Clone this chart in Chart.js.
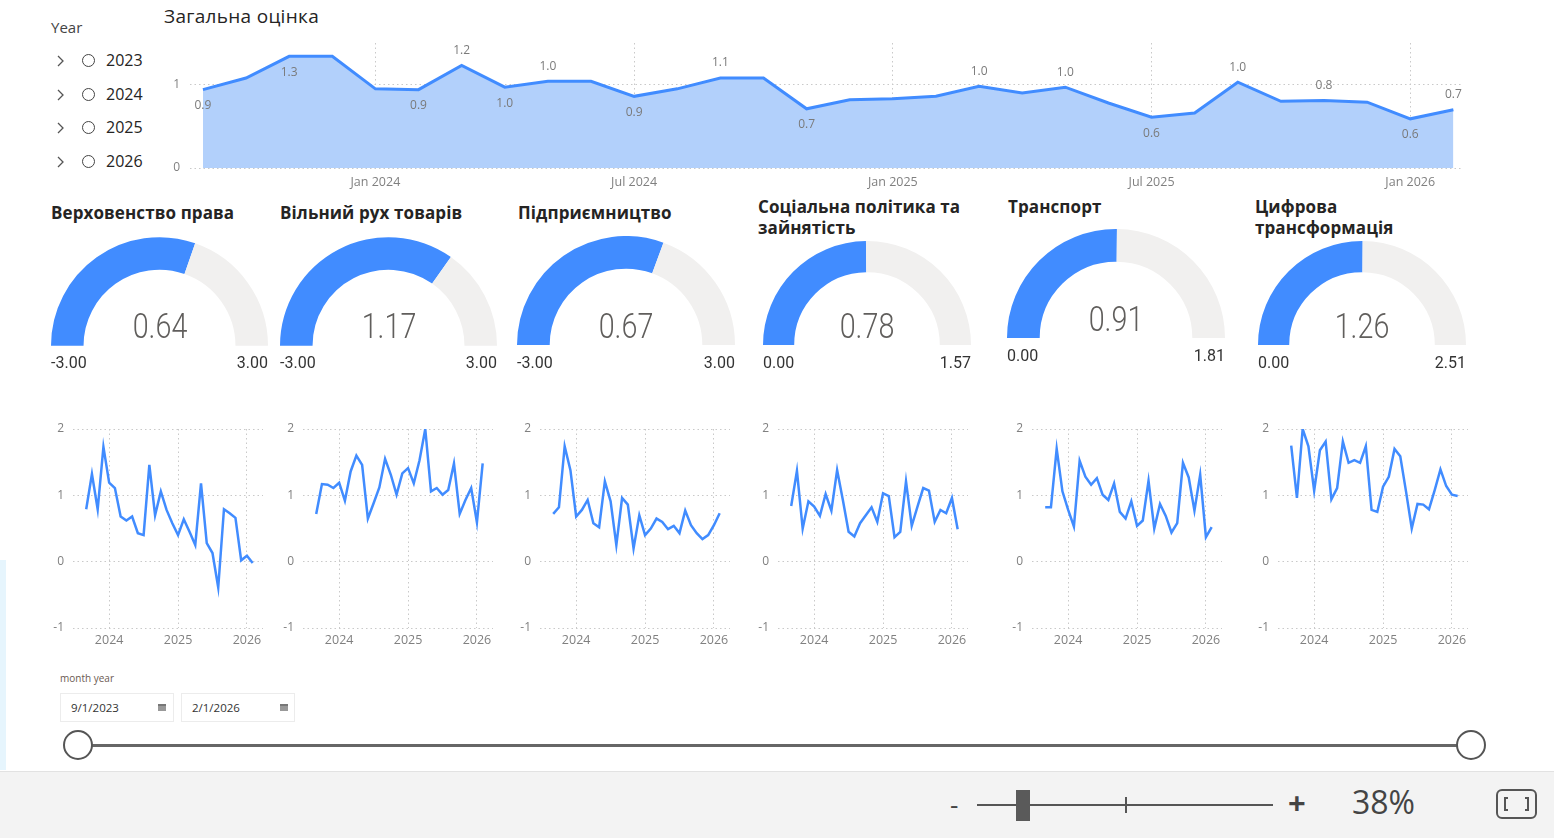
<!DOCTYPE html>
<html>
<head>
<meta charset="utf-8">
<script src="https://cdn.jsdelivr.net/npm/chart.js@4.4.0/dist/chart.umd.min.js"></script>
<style>
body { margin:0; width:1554px; height:838px; position:relative; overflow:hidden; background:#fff;
       font-family:"Open Sans","Noto Sans",sans-serif; color:#252423; }
.abs { position:absolute; white-space:nowrap; }
canvas { position:absolute; }
.ttl { font-weight:700; font-size:17px; line-height:21px; letter-spacing:0.1px; }
.gval { font-family:Roboto,sans-serif; font-weight:300; font-size:35px; color:#605e5c; transform:translate(-50%,-50%) scaleX(0.82); }
.glab { font-family:Roboto,sans-serif; font-weight:400; font-size:16px; color:#333; transform:translateY(-50%); }
.yr { font-size:16px; color:#252423; }
.radio { width:11px; height:11px; border:1.3px solid #444; border-radius:50%; }
.datebox { border:1px solid #ececec; height:27px; width:112px; font-size:11.5px; color:#333; line-height:27px; }
.cal { width:8px; height:7px; background:#999; top:10px; border-top:2px solid #777; box-sizing:border-box; }
</style>
</head>
<body>

<!-- year slicer -->
<div class="abs" style="left:51px;top:17px;font-size:15px;color:#444">Year</div>
<div id="years"></div>

<div class="abs" style="left:164px;top:3px;font-size:19px;letter-spacing:0.3px;color:#252423">Загальна оцінка</div>
<canvas id="overall" width="1312" height="155" style="left:160px;top:35px"></canvas>

<div id="gauges"></div>
<div id="lines"></div>

<!-- date slicer -->
<div class="abs" style="left:60px;top:671px;font-size:10px;color:#6b5a52">month year</div>
<div class="abs datebox" style="left:60px;top:693px"><span style="margin-left:10px">9/1/2023</span><div class="abs cal" style="left:97px"></div></div>
<div class="abs datebox" style="left:181px;top:693px"><span style="margin-left:10px">2/1/2026</span><div class="abs cal" style="left:98px"></div></div>
<div class="abs" style="left:78px;top:744px;width:1393px;height:3px;background:#666"></div>
<div class="abs" style="left:63px;top:730px;width:26px;height:26px;border:2.5px solid #555;border-radius:50%;background:#fff"></div>
<div class="abs" style="left:1456px;top:730px;width:26px;height:26px;border:2.5px solid #555;border-radius:50%;background:#fff"></div>

<!-- left glow -->
<div class="abs" style="left:0;top:560px;width:6px;height:210px;background:#e6f5fd"></div>

<!-- bottom bar -->
<div class="abs" style="left:0;top:771px;width:1554px;height:67px;background:#f3f3f3;border-top:1px solid #e2e2e2"></div>
<div class="abs" style="left:950px;top:786px;font-size:26px;color:#444">-</div>
<div class="abs" style="left:977px;top:804px;width:296px;height:2px;background:#555"></div>
<div class="abs" style="left:1125px;top:797px;width:2px;height:16px;background:#555"></div>
<div class="abs" style="left:1016px;top:790px;width:14px;height:31px;background:#5a5a5a"></div>
<div class="abs" style="left:1288px;top:781px;font-size:31px;font-weight:700;color:#444">+</div>
<div class="abs" style="left:1352px;top:780px;font-size:32px;color:#444">38%</div>
<svg class="abs" style="left:1496px;top:789px" width="41" height="30">
  <rect x="1" y="1" width="39" height="28" rx="5" fill="none" stroke="#555" stroke-width="2"/>
  <polyline points="12,9 9,9 9,21 12,21" fill="none" stroke="#555" stroke-width="2"/>
  <polyline points="29,9 32,9 32,21 29,21" fill="none" stroke="#555" stroke-width="2"/>
</svg>

<script>
var months = ['Sep 2023','Oct 2023','Nov 2023','Dec 2023',
  'Jan 2024','Feb 2024','Mar 2024','Apr 2024','May 2024','Jun 2024','Jul 2024','Aug 2024','Sep 2024','Oct 2024','Nov 2024','Dec 2024',
  'Jan 2025','Feb 2025','Mar 2025','Apr 2025','May 2025','Jun 2025','Jul 2025','Aug 2025','Sep 2025','Oct 2025','Nov 2025','Dec 2025',
  'Jan 2026','Feb 2026'];
var years = ['2023', '2024', '2025', '2026'];

// Загальна оцінка
var overall = [0.94, 1.08, 1.34, 1.34, 0.95, 0.94, 1.23, 0.97, 1.04, 1.04, 0.86, 0.95, 1.08, 1.08, 0.71, 0.82,
  0.83, 0.86, 0.98, 0.90, 0.97, 0.78, 0.61, 0.66, 1.03, 0.80, 0.81, 0.79, 0.59, 0.70];
var overallLabelIdx = [0, 2, 5, 6, 7, 8, 10, 12, 14, 18, 20, 22, 24, 26, 28, 29];
var overallLabelPos = ['down','down','down','up','down','up','down','up','down','up','up','down','up','up','down','up'];
var overallTicks = ['Jan 2024', 'Jul 2024', 'Jan 2025', 'Jul 2025', 'Jan 2026'];
var yearTicks = ['2024', '2025', '2026'];

var areaNames = [['Верховенство права'], ['Вільний рух товарів'], ['Підприємництво'],
  ['Соціальна політика та', 'зайнятість'], ['Транспорт'], ['Цифрова', 'трансформація']];
var areaValues = [0.64, 1.17, 0.67, 0.78, 0.91, 1.26];
var areaMin = [-3, -3, -3, 0, 0, 0];
var areaMax = [3, 3, 3, 1.57, 1.81, 2.51];

var ruleOfLaw = [0.79, 1.32, 0.79, 1.73, 1.19, 1.11, 0.68, 0.62, 0.68, 0.43, 0.40, 1.46, 0.70, 1.06, 0.78, 0.58,
  0.40, 0.64, 0.45, 0.25, 1.18, 0.28, 0.13, -0.39, 0.79, 0.73, 0.66, 0.02, 0.09, -0.02];
var freeGoods = [0.72, 1.17, 1.16, 1.11, 1.19, 0.92, 1.36, 1.60, 1.46, 0.65, 0.88, 1.12, 1.55, 1.31, 1.01, 1.33,
  1.41, 1.18, 1.53, 2.00, 1.06, 1.11, 1.01, 1.08, 1.48, 0.72, 0.93, 1.11, 0.59, 1.48];
var business = [0.72, 0.82, 1.74, 1.38, 0.68, 0.78, 0.93, 0.58, 0.52, 1.21, 0.91, 0.25, 0.96, 0.86, 0.20, 0.70,
  0.40, 0.50, 0.65, 0.60, 0.49, 0.54, 0.43, 0.77, 0.55, 0.43, 0.34, 0.40, 0.55, 0.73];
var social = [0.84, 1.37, 0.50, 0.91, 0.83, 0.69, 1.02, 0.77, 1.38, 0.93, 0.45, 0.38, 0.58, 0.70, 0.82, 0.60,
  1.03, 0.99, 0.37, 0.45, 1.21, 0.54, 0.83, 1.11, 1.07, 0.60, 0.78, 0.73, 0.96, 0.49];
var transport = [0.82, 0.82, 1.70, 1.06, 0.78, 0.53, 1.52, 1.28, 1.16, 1.26, 1.01, 0.93, 1.18, 0.75, 0.65, 0.91,
  0.54, 0.62, 1.22, 0.50, 0.87, 0.69, 0.44, 0.58, 1.49, 1.27, 0.77, 1.31, 0.37, 0.52];
var digital = [1.75, 0.96, 2.00, 1.74, 1.07, 1.68, 1.81, 0.94, 1.11, 1.81, 1.49, 1.53, 1.49, 1.74, 0.78, 0.75,
  1.13, 1.28, 1.70, 1.59, 1.06, 0.50, 0.87, 0.86, 0.79, 1.08, 1.39, 1.14, 1.01, 0.99];
var areaSeries = [ruleOfLaw, freeGoods, business, social, transport, digital];

var blue = '#418cff';
Chart.defaults.font.family = '"Open Sans", sans-serif';
Chart.defaults.color = '#808080';

// layout of the small visuals
var gaugeBox = [[159.5, 345, 108.5], [388.5, 345, 108.5], [626, 345, 109], [866.5, 345, 104], [1116, 338, 109], [1362, 345, 104]];
var titlePos = [[51, 202], [280, 202], [518, 202], [758, 196], [1008, 196], [1255, 196]];
var linePlotLeft = [73, 303, 540, 778, 1032, 1278];

// year slicer
var yh = '';
years.forEach(function(y, i) {
  var top = 61 + i * 33.7;
  yh += '<svg class="abs" style="left:56px;top:' + (top - 6) + 'px" width="8" height="12"><polyline points="2,1 7,6 2,11" fill="none" stroke="#555" stroke-width="1.3"/></svg>';
  yh += '<div class="abs radio" style="left:82px;top:' + (top - 7) + 'px"></div>';
  yh += '<div class="abs yr" style="left:106px;top:' + (top - 12) + 'px">' + y + '</div>';
});
document.getElementById('years').innerHTML = yh;

function monthIdx(lbl) { return months.indexOf(lbl); }
function noPadY(s, w) { s.width = w; s.paddingTop = 0; s.paddingBottom = 0; }
function noPadX(s, h) { s.height = h; s.paddingLeft = 0; s.paddingRight = 0; }

var pointLabels = {
  id: 'pointLabels',
  afterDatasetsDraw: function(chart) {
    var ctx = chart.ctx, meta = chart.getDatasetMeta(0);
    ctx.save();
    ctx.font = '12px "Open Sans"';
    ctx.fillStyle = '#7a7a7a';
    ctx.textAlign = 'center';
    ctx.textBaseline = 'middle';
    overallLabelIdx.forEach(function(i, k) {
      var p = meta.data[i];
      var dy = overallLabelPos[k] == 'up' ? -15 : 16;
      ctx.fillText(overall[i].toFixed(1), p.x, p.y + dy);
    });
    ctx.restore();
  }
};

var gridOpts = { color: '#c9c9c9', lineWidth: 1, drawTicks: false };
var borderOpts = { display: false, dash: [1.5, 3] };

new Chart(document.getElementById('overall'), {
  type: 'line',
  data: {
    datasets: [{
      data: overall.map(function(v, i) { return { x: i, y: v }; }),
      borderColor: blue, backgroundColor: '#b2d0fb', fill: 'origin',
      borderWidth: 3, pointRadius: 0, tension: 0
    }]
  },
  options: {
    responsive: false, animation: false, events: [],
    layout: { padding: { top: 8, right: 10 } },
    plugins: { legend: { display: false }, tooltip: { enabled: false } },
    scales: {
      x: {
        type: 'linear', min: -0.3, max: 29.2,
        afterBuildTicks: function(s) { s.ticks = overallTicks.map(function(t) { return { value: monthIdx(t) }; }); },
        afterFit: function(s) { noPadX(s, 22); },
        ticks: { autoSkip: false, maxRotation: 0, padding: 7, font: { size: 12.5 }, callback: function(v) { return months[v]; } },
        grid: gridOpts, border: borderOpts
      },
      y: {
        min: 0, max: 1.5,
        afterBuildTicks: function(s) { s.ticks = [{ value: 0 }, { value: 1 }]; },
        afterFit: function(s) { noPadY(s, 30); },
        ticks: { padding: 10, font: { size: 12 } },
        grid: gridOpts, border: borderOpts
      }
    }
  },
  plugins: [pointLabels]
});

// gauges
var gh = '';
areaNames.forEach(function(name, i) {
  var g = gaugeBox[i], t = titlePos[i];
  gh += '<div class="abs ttl" style="left:' + t[0] + 'px;top:' + t[1] + 'px">' + name.join('<br>') + '</div>';
  gh += '<canvas id="g' + i + '" width="' + Math.round(2 * g[2]) + '" height="' + Math.round(g[2]) + '" style="left:' + Math.round(g[0] - g[2]) + 'px;top:' + Math.round(g[1] - g[2]) + 'px"></canvas>';
  gh += '<div class="abs gval" style="left:' + g[0] + 'px;top:' + (g[1] - 19) + 'px">' + areaValues[i].toFixed(2) + '</div>';
  gh += '<div class="abs glab" style="left:' + Math.round(g[0] - g[2]) + 'px;top:' + (g[1] + 17) + 'px">' + areaMin[i].toFixed(2) + '</div>';
  gh += '<div class="abs glab" style="right:' + (1554 - Math.round(g[0] + g[2])) + 'px;top:' + (g[1] + 17) + 'px">' + areaMax[i].toFixed(2) + '</div>';
});
document.getElementById('gauges').innerHTML = gh;

areaValues.forEach(function(v, i) {
  new Chart(document.getElementById('g' + i), {
    type: 'doughnut',
    data: { datasets: [{ data: [v - areaMin[i], areaMax[i] - v], backgroundColor: [blue, '#f1f0ef'], borderWidth: 0 }] },
    options: {
      responsive: false, animation: false, events: [],
      rotation: -90, circumference: 180, cutout: '70%',
      plugins: { legend: { display: false }, tooltip: { enabled: false } }
    }
  });
});

// small line charts
var lh = '';
linePlotLeft.forEach(function(x, i) {
  lh += '<canvas id="l' + i + '" width="228" height="228" style="left:' + (x - 30) + 'px;top:420px"></canvas>';
});
document.getElementById('lines').innerHTML = lh;

areaSeries.forEach(function(series, i) {
  new Chart(document.getElementById('l' + i), {
    type: 'line',
    data: {
      datasets: [{
        data: series.map(function(v, k) { return { x: k, y: v }; }),
        borderColor: blue, borderWidth: 2.5, pointRadius: 0, tension: 0, fill: false
      }]
    },
    options: {
      responsive: false, animation: false, events: [],
      layout: { padding: { top: 9, right: 8 } },
      plugins: { legend: { display: false }, tooltip: { enabled: false } },
      scales: {
        x: {
          type: 'linear', min: -2.3, max: 30.8,
          afterBuildTicks: function(s) { s.ticks = yearTicks.map(function(y) { return { value: monthIdx('Jan ' + y) }; }); },
          afterFit: function(s) { noPadX(s, 20); },
          ticks: { autoSkip: false, maxRotation: 0, padding: 5, font: { size: 12.5 }, callback: function(v) { return months[v].slice(4); } },
          grid: gridOpts, border: borderOpts
        },
        y: {
          min: -1, max: 2,
          ticks: { stepSize: 1, padding: 9, font: { size: 12 } },
          afterFit: function(s) { noPadY(s, 30); },
          grid: gridOpts, border: borderOpts
        }
      }
    }
  });
});
</script>
</body>
</html>
